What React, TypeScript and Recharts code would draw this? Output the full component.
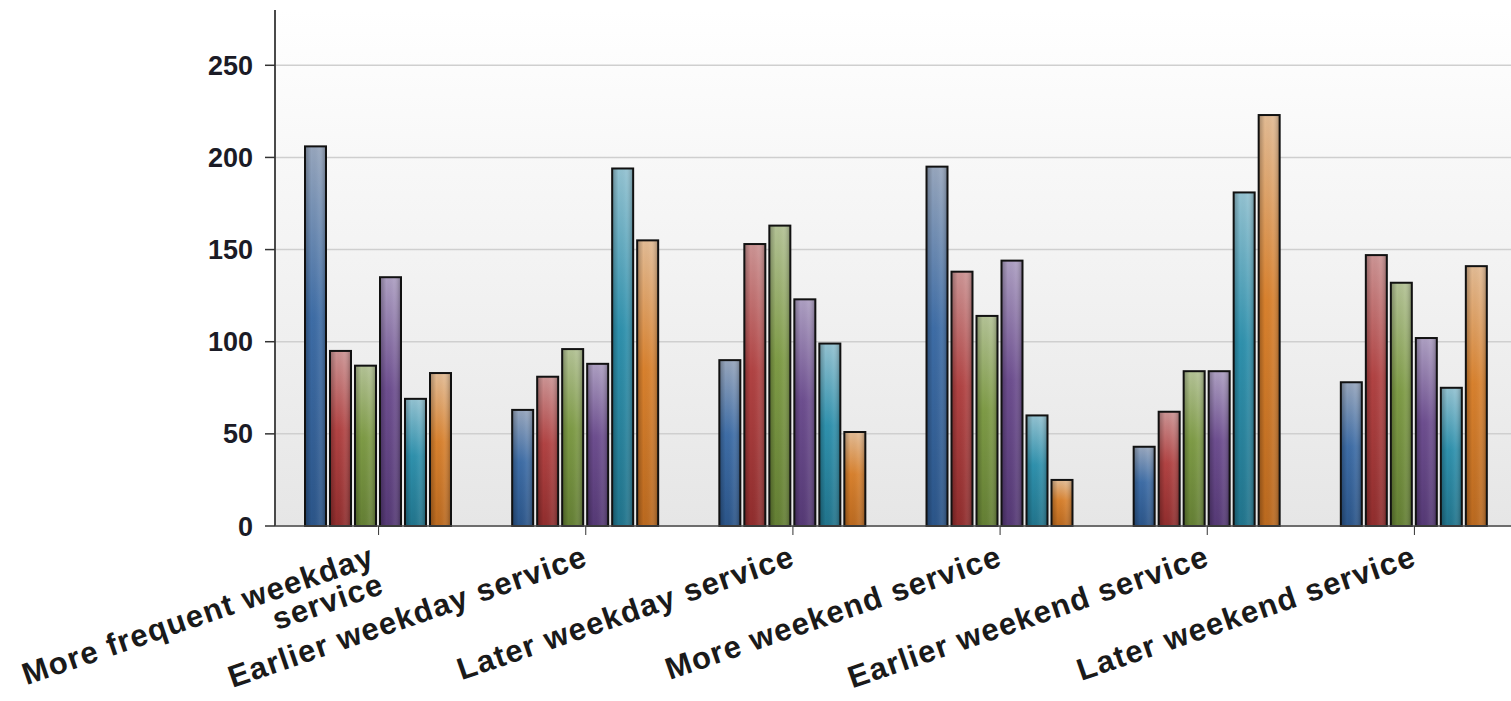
import { BarChart, Bar, XAxis, YAxis, CartesianGrid } from 'recharts';

const categories = [
  'More frequent weekday service',
  'Earlier weekday service',
  'Later weekday service',
  'More weekend service',
  'Earlier weekend service',
  'Later weekend service',
];
const blueValues = [206, 63, 90, 195, 43, 78];
const redValues = [95, 81, 153, 138, 62, 147];
const greenValues = [87, 96, 163, 114, 84, 132];
const purpleValues = [135, 88, 123, 144, 84, 102];
const tealValues = [69, 194, 99, 60, 181, 75];
const orangeValues = [83, 155, 51, 25, 223, 141];
const yTicks = [0, 50, 100, 150, 200, 250];

const data = categories.map((name, i) => ({
  name,
  blue: blueValues[i],
  red: redValues[i],
  green: greenValues[i],
  purple: purpleValues[i],
  teal: tealValues[i],
  orange: orangeValues[i],
}));

// top / middle / bottom colours of each bar gradient
const palette = [
  { key: 'blue', top: '#97a6bd', mid: '#3e6da6', bot: '#2b5589' },
  { key: 'red', top: '#cc9494', mid: '#b14343', bot: '#902d2d' },
  { key: 'green', top: '#b3c295', mid: '#7e9b46', bot: '#647f34' },
  { key: 'purple', top: '#ad9fc2', mid: '#6d4e8f', bot: '#553975' },
  { key: 'teal', top: '#93c2d1', mid: '#2f91ad', bot: '#21748c' },
  { key: 'orange', top: '#e2bb94', mid: '#d8812e', bot: '#ba691f' },
];

const FONT = '"Liberation Sans", Arial, sans-serif';

function GlossBar(props: any) {
  const { x, y, width, height, gradId } = props;
  if (!height || height <= 0) return null;
  return (
    <g>
      <rect x={x} y={y} width={width} height={height} fill={`url(#${gradId})`} />
      <rect x={x} y={y} width={width} height={height} fill="url(#edgeShade)" />
      <rect x={x} y={y} width={width} height={height} fill="none" stroke="#111" strokeWidth={2} />
    </g>
  );
}

function wrapLabel(text: string, maxChars: number) {
  const lines: string[] = [];
  let cur = '';
  for (const w of text.split(' ')) {
    const next = cur ? cur + ' ' + w : w;
    if (next.length > maxChars && cur) {
      lines.push(cur);
      cur = w;
    } else {
      cur = next;
    }
  }
  if (cur) lines.push(cur);
  return lines;
}

function CategoryTick({ x, y, payload }: any) {
  const lines = wrapLabel(payload.value, 24);
  // wrapped labels sit a little left of the tick
  const dx = lines.length > 1 ? -10 : -4;
  return (
    <g transform={`translate(${x + dx},${y}) rotate(-19)`}>
      <text
        textAnchor="end"
        fontFamily={FONT}
        fontWeight="bold"
        fontSize={31}
        letterSpacing={1.2}
        fill="#1a1a1a"
      >
        {lines.map((l, i) => (
          <tspan key={i} x={0} dy={i === 0 ? '0.75em' : '0.95em'}>
            {l}
          </tspan>
        ))}
      </text>
    </g>
  );
}

export default function App() {
  return (
    <div style={{ position: 'absolute', left: 0, top: 0, width: 1511, height: 701, overflow: 'hidden', background: '#fff' }}>
      <BarChart
        width={1518}
        height={701}
        data={data}
        margin={{ top: 10, right: 0, left: 0, bottom: 0 }}
        barCategoryGap={30}
        barGap={4}
      >
        <defs>
          <linearGradient id="plotBg" x1="0" y1="0" x2="0" y2="1">
            <stop offset="0%" stopColor="#ffffff" />
            <stop offset="100%" stopColor="#e6e6e6" />
          </linearGradient>
          <linearGradient id="edgeShade" x1="0" y1="0" x2="1" y2="0">
            <stop offset="0%" stopColor="#000" stopOpacity={0.28} />
            <stop offset="30%" stopColor="#000" stopOpacity={0} />
            <stop offset="65%" stopColor="#fff" stopOpacity={0.06} />
            <stop offset="100%" stopColor="#000" stopOpacity={0.3} />
          </linearGradient>
          {palette.map((p) => (
            <linearGradient key={p.key} id={`grad-${p.key}`} x1="0" y1="0" x2="0" y2="1">
              <stop offset="0%" stopColor={p.top} />
              <stop offset="45%" stopColor={p.mid} />
              <stop offset="100%" stopColor={p.bot} />
            </linearGradient>
          ))}
        </defs>
        <CartesianGrid vertical={false} syncWithTicks stroke="#cfcfcf" strokeWidth={1.5} fill="url(#plotBg)" />
        <XAxis
          dataKey="name"
          height={175}
          interval={0}
          tick={<CategoryTick />}
          tickSize={9}
          tickMargin={8}
          axisLine={{ stroke: '#4a4a4a', strokeWidth: 1.5 }}
          tickLine={{ stroke: '#333' }}
        />
        <YAxis
          width={275}
          domain={[0, 280]}
          ticks={yTicks}
          interval={0}
          tickSize={10}
          tickMargin={12}
          axisLine={{ stroke: '#4a4a4a', strokeWidth: 2 }}
          tickLine={{ stroke: '#333', strokeWidth: 1.5 }}
          tick={{ fontSize: 27, fontWeight: 'bold', fill: '#1b1b26', fontFamily: FONT }}
        />
        {palette.map((p) => (
          <Bar
            key={p.key}
            dataKey={p.key}
            isAnimationActive={false}
            shape={(props: any) => <GlossBar {...props} gradId={`grad-${p.key}`} />}
          />
        ))}
      </BarChart>
    </div>
  );
}
